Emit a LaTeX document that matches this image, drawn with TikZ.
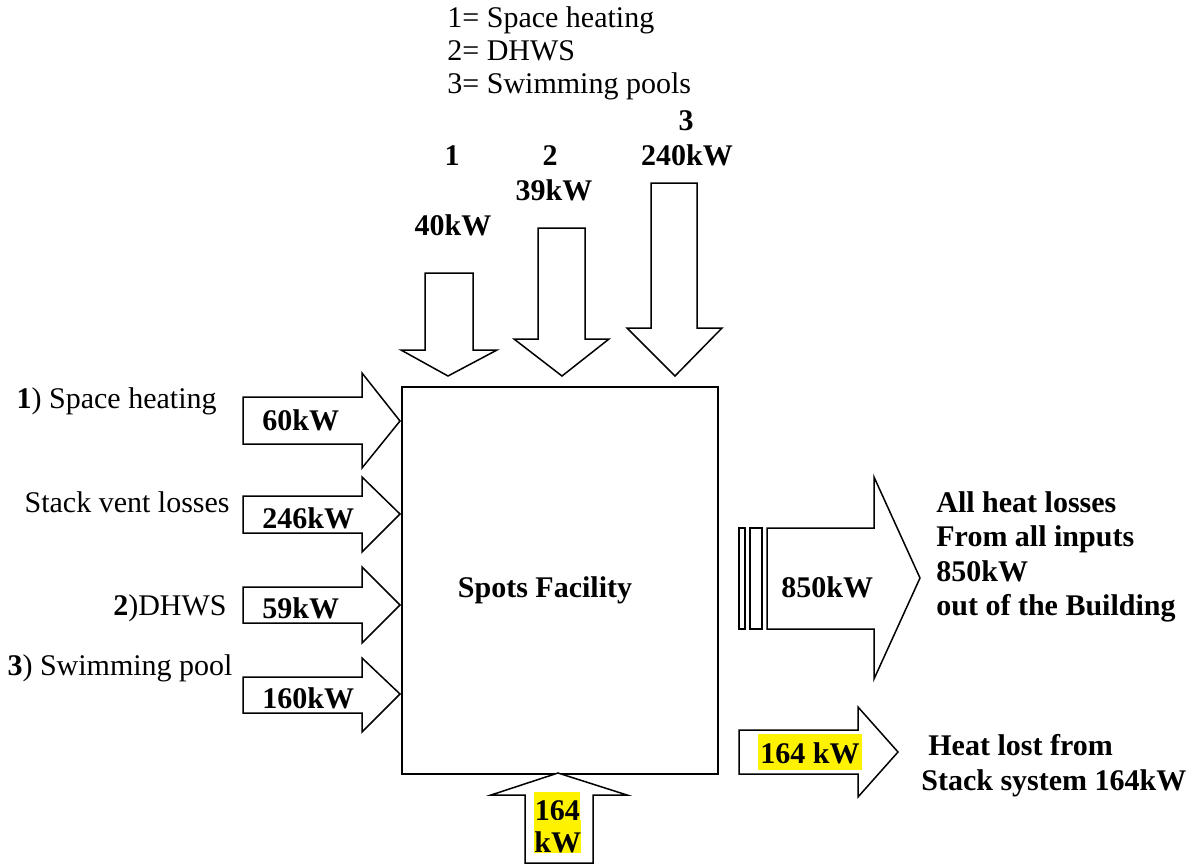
\documentclass[tikz,border=0pt]{standalone}
\usepackage{fontspec}
\setmainfont{Liberation Serif}
\begin{document}
\begin{tikzpicture}[x=0.5pt,y=-0.5pt,
  blk/.style={draw, fill=white, line width=0.75pt, line join=miter},
  txt/.style={inner sep=0, font=\fontsize{15}{16.5}\selectfont},
  btxt/.style={inner sep=0, font=\fontsize{15}{16.5}\selectfont\bfseries},
  hl/.style={btxt, fill=yellow}]
\useasboundingbox (0,0) rectangle (1196,864);

% legend
\node[txt, anchor=base west] (leg1) at (447,27) {1= Space heating};
\node[txt, anchor=base west] (leg2) at (447,60) {2= DHWS};
\node[txt, anchor=base west] (leg3) at (447,93) {3= Swimming pools};

% main box
\node[draw, line width=0.75pt, anchor=north west, inner sep=0,
      minimum width=158pt, minimum height=193.5pt] (box) at (401,386) {};
\node[btxt, anchor=base] (boxlabel) at (545,597) {Spots Facility};

% top arrows
\draw[blk] (425,273) -- (473,273) -- (473,350) -- (497,350) -- (448,376) -- (401,350) -- (425,350) -- cycle;
\draw[blk] (538,228) -- (585,228) -- (585,339) -- (609,339) -- (562,376) -- (514,339) -- (538,339) -- cycle;
\draw[blk] (651,183) -- (697,183) -- (697,328) -- (722,328) -- (675,376) -- (627,328) -- (651,328) -- cycle;
\node[btxt, anchor=base] (t1) at (452,165) {1};
\node[btxt, anchor=base] (t1v) at (453,235) {40kW};
\node[btxt, anchor=base] (t2) at (550,165) {2};
\node[btxt, anchor=base] (t2v) at (554,200) {39kW};
\node[btxt, anchor=base] (t3) at (686,130) {3};
\node[btxt, anchor=base] (t3v) at (687,165) {240kW};

% left arrows
\draw[blk] (243,397) -- (362,397) -- (362,373) -- (400,421) -- (362,468) -- (362,444) -- (243,444) -- cycle;
\draw[blk] (243,496) -- (362,496) -- (362,477) -- (400,514) -- (362,552) -- (362,533) -- (243,533) -- cycle;
\draw[blk] (243,587) -- (362,587) -- (362,567) -- (400,605) -- (362,643) -- (362,623) -- (243,623) -- cycle;
\draw[blk] (243,677) -- (362,677) -- (362,658) -- (400,694) -- (362,732) -- (362,713) -- (243,713) -- cycle;
\node[btxt, anchor=base west] (l1v) at (262,430) {60kW};
\node[btxt, anchor=base west] (l2v) at (262,528) {246kW};
\node[btxt, anchor=base west] (l3v) at (262,618) {59kW};
\node[btxt, anchor=base west] (l4v) at (262,708) {160kW};
\node[txt, anchor=base east] (l1) at (217,408) {\textbf{1}) Space heating};
\node[txt, anchor=base east] (l2) at (230,512) {Stack vent losses};
\node[txt, anchor=base east] (l3) at (227,615) {\textbf{2})DHWS};
\node[txt, anchor=base east] (l4) at (233,675) {\textbf{3}) Swimming pool};

% big right arrow
\draw[blk] (739,528) rectangle (745,629);
\draw[blk] (750,528) rectangle (762,629);
\draw[blk] (767,528) -- (874,528) -- (874,477) -- (920,578) -- (874,679) -- (874,629) -- (767,629) -- cycle;
\node[btxt, anchor=base west] (outv) at (781,597) {850kW};
\node[btxt, anchor=base west] (r1) at (936,512) {All heat losses};
\node[btxt, anchor=base west] (r2) at (936,546) {From all inputs};
\node[btxt, anchor=base west] (r3) at (936,581) {850kW};
\node[btxt, anchor=base west] (r4) at (936,615) {out of the Building};

% stack arrow (right)
\draw[blk] (739,730) -- (858,730) -- (858,707) -- (898,752) -- (858,797) -- (858,774) -- (739,774) -- cycle;
\node[hl, anchor=base west, inner xsep=1pt, text height=14.5pt, text depth=3.5pt] (stackv) at (758,763) {164 kW};
\node[btxt, anchor=base west] (s1) at (928,755) {Heat lost from};
\node[btxt, anchor=base west] (s2) at (921,790) {Stack system 164kW};

% bottom arrow
\draw[blk] (558,773) -- (627,795) -- (593,795) -- (593,863) -- (525,863) -- (525,795) -- (491,795) -- cycle;
\node[hl, anchor=base west, minimum width=23pt, text height=14pt, text depth=0pt] (b1) at (534,820) {164};
\node[hl, anchor=base west, minimum width=23pt, text height=16pt, text depth=0.5pt] (b2) at (534,852) {kW};
\end{tikzpicture}
\end{document}
